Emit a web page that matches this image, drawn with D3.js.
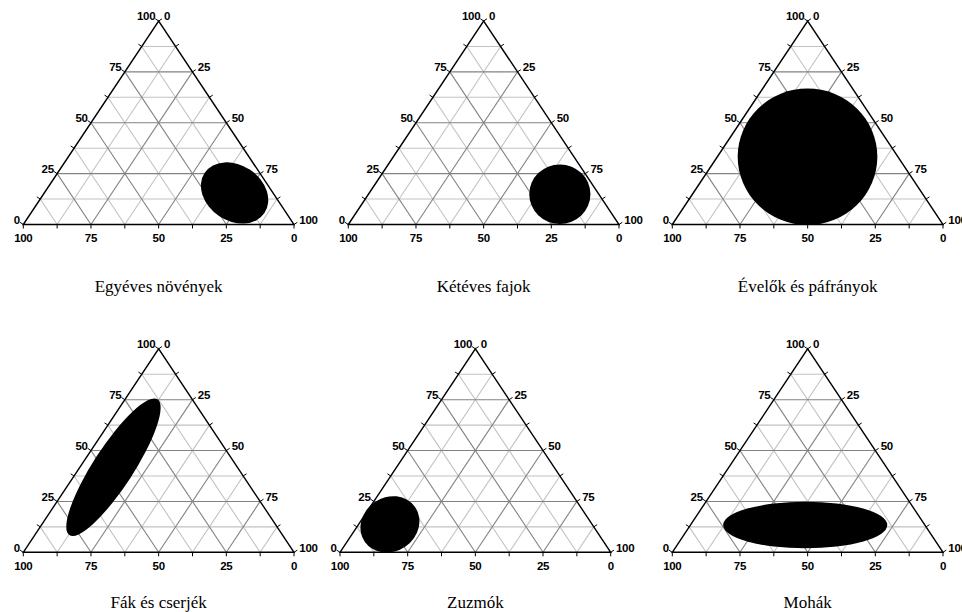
<!DOCTYPE html>
<html>
<head>
<meta charset="utf-8">
<script src="https://cdn.jsdelivr.net/npm/d3@7"></script>
<style>
  body { margin: 0; background: #fff; }
  .tick-label { font-family: "Liberation Sans", Arial, sans-serif; font-weight: bold; font-size: 11.5px; letter-spacing: -0.3px; fill: #000; }
  .panel-title { font-family: "Liberation Serif", "Times New Roman", serif; font-size: 17px; fill: #000; }
</style>
</head>
<body>
<svg id="chart" width="962" height="612"></svg>
<script>
// Plant groups, one ternary panel each
const groups = ["Egyéves növények", "Kétéves fajok", "Évelők és páfrányok", "Fák és cserjék", "Zuzmók", "Mohák"];

// Ellipse centres as compositions (%): a = left axis (top vertex), b = right axis (bottom-right vertex), c = 100 - a - b
const centreA = [15.5, 14.9, 33.3, 41.8, 13.7, 13.4];
const centreB = [70.3, 70.7, 33.3, 12.4, 11.6, 42.4];

// Semi-axes of each ellipse (% of the triangle side) and their tilt (degrees)
const radiusMajor = [13.3, 11.3, 25.8, 29.9, 11.3, 30.3];
const radiusMinor = [10.3, 11.0, 25.2, 7.4, 10.0, 8.6];
const tilt = [34, 0, 0, -57, -35, 0];

// Axis values
const labelTicks = [0, 25, 50, 75, 100];
const tickSteps = [0, 12.5, 25, 37.5, 50, 62.5, 75, 87.5, 100];
const gridSteps = [12.5, 25, 37.5, 50, 62.5, 75, 87.5];

// Panel placement: bottom-left corner of each triangle
const panelLeft = [23.3, 348.3, 672.3, 23.3, 340, 672.3];
const panelBase = [224.5, 224.5, 224.5, 552.3, 552.3, 552.3];
const titleY = [292, 292, 292, 608, 608, 608];
const side = 270.7;
const height = 203.5;
const tickLen = 4;

const svg = d3.select("#chart");

groups.forEach((name, i) => {
  const left = panelLeft[i], base = panelBase[i];
  const x = d3.scaleLinear().domain([0, 100]).range([left, left + side]);
  const y = d3.scaleLinear().domain([0, 100]).range([base, base - height]);
  // ternary (a, b) -> screen position
  const pt = (a, b) => [x(b + a / 2), y(a)];

  const g = svg.append("g").attr("class", "panel");

  // grid: lines of constant a, b and c
  const gridLines = [];
  gridSteps.forEach(v => {
    const major = v % 25 === 0;
    gridLines.push({ p: [pt(v, 0), pt(v, 100 - v)], major });
    gridLines.push({ p: [pt(0, v), pt(100 - v, v)], major });
    gridLines.push({ p: [pt(0, 100 - v), pt(100 - v, 0)], major });
  });
  // light lines first, darker ones on top
  gridLines.sort((u, w) => u.major - w.major);
  g.append("g").selectAll("line").data(gridLines).join("line")
    .attr("x1", d => d.p[0][0]).attr("y1", d => d.p[0][1])
    .attr("x2", d => d.p[1][0]).attr("y2", d => d.p[1][1])
    .attr("stroke", d => d.major ? "#828282" : "#c2c2c2")
    .attr("stroke-width", 1.1);

  // ellipse
  const cx = pt(centreA[i], centreB[i])[0];
  const cy = pt(centreA[i], centreB[i])[1];
  g.append("ellipse")
    .attr("cx", cx).attr("cy", cy)
    .attr("rx", x(radiusMajor[i]) - x(0))
    .attr("ry", x(radiusMinor[i]) - x(0))
    .attr("transform", `rotate(${tilt[i]} ${cx} ${cy})`)
    .attr("fill", "#000");

  // triangle outline
  const corners = [pt(0, 0), pt(100, 0), pt(0, 100)];
  g.append("path")
    .attr("d", d3.line()(corners) + "Z")
    .attr("fill", "none").attr("stroke", "#000").attr("stroke-width", 1.4)
    .attr("stroke-linejoin", "miter");

  // outward normals of the three edges
  const L = Math.hypot(side / 2, height);
  const nLeft = [-height / L, -(side / 2) / L];
  const nRight = [height / L, -(side / 2) / L];
  const nBottom = [0, 1];

  const axes = [
    { pos: v => pt(v, 0), n: nLeft, anchor: "end", dx: 0, dy: 1.5 },          // left axis: a
    { pos: v => pt(100 - v, v), n: nRight, anchor: "start", dx: 2, dy: 1.5 }, // right axis: b
    { pos: v => pt(0, 100 - v), n: nBottom, anchor: "middle", dx: 0, dy: 13.5 } // bottom axis: c
  ];

  axes.forEach(ax => {
    const tg = g.append("g");
    tg.selectAll("line").data(tickSteps).join("line")
      .attr("x1", v => ax.pos(v)[0]).attr("y1", v => ax.pos(v)[1])
      .attr("x2", v => ax.pos(v)[0] + ax.n[0] * tickLen)
      .attr("y2", v => ax.pos(v)[1] + ax.n[1] * tickLen)
      .attr("stroke", "#000").attr("stroke-width", 1);
    tg.selectAll("text").data(labelTicks).join("text")
      .attr("class", "tick-label")
      .attr("text-anchor", ax.anchor)
      .attr("x", v => ax.pos(v)[0] + ax.n[0] * tickLen + ax.dx)
      .attr("y", v => ax.pos(v)[1] + ax.n[1] * tickLen + ax.dy)
      .text(v => v);
  });

  // panel title
  g.append("text")
    .attr("class", "panel-title")
    .attr("text-anchor", "middle")
    .attr("x", left + side / 2)
    .attr("y", titleY[i])
    .text(name);
});
</script>
</body>
</html>
